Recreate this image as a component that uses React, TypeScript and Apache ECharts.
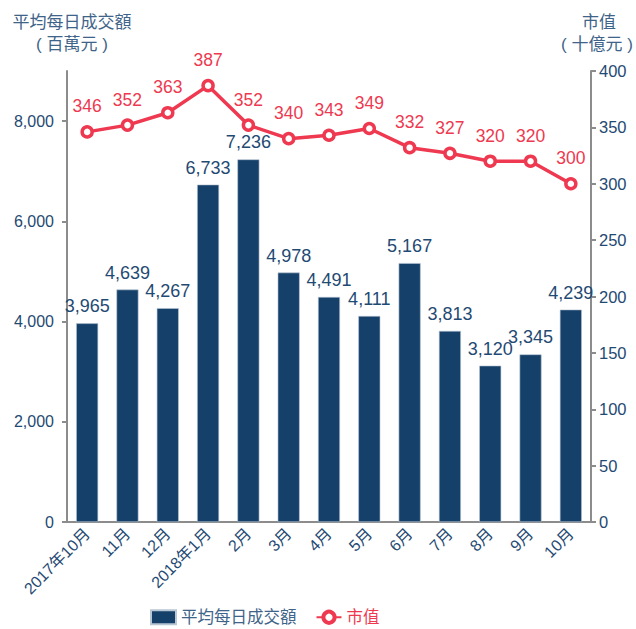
import React, { useEffect, useRef } from "react";
import * as echarts from "echarts";

const categories = ["2017年10月", "11月", "12月", "2018年1月", "2月", "3月", "4月", "5月", "6月", "7月", "8月", "9月", "10月"];
const turnover = [3965, 4639, 4267, 6733, 7236, 4978, 4491, 4111, 5167, 3813, 3120, 3345, 4239];
const marketCap = [346, 352, 363, 387, 352, 340, 343, 349, 332, 327, 320, 320, 300];
const leftTicks = [0, 2000, 4000, 6000, 8000];

const BAR = "#15406a";
const RED = "#ee3950";
const TXT = "#1f4a73";
const TITLE = "#3f6489";
const AXIS = "#8c8c8c";
const FONT = "'Liberation Sans', Arial, 'Noto Sans CJK TC', sans-serif";

export default function App() {
  const ref = useRef<HTMLDivElement>(null);
  useEffect(() => {
    document.body.style.margin = "0";
    if (!ref.current) return;
    const chart = echarts.init(ref.current, null, { renderer: "svg" });
    const fmt = (v: number) => v.toLocaleString("en-US");
    chart.setOption({
      animation: false,
      textStyle: { fontFamily: FONT },
      grid: { left: 67, right: 45, top: 71, bottom: 107 },
      graphic: [
        { type: "text", x: 72, y: 22, style: { text: "平均每日成交額", fill: TITLE, font: `17px ${FONT}`, align: "center", verticalAlign: "middle" } },
        { type: "text", x: 72, y: 44, style: { text: "( 百萬元 )", fill: TITLE, font: `17px ${FONT}`, align: "center", verticalAlign: "middle" } },
        { type: "text", x: 599, y: 22, style: { text: "市值", fill: TITLE, font: `17px ${FONT}`, align: "center", verticalAlign: "middle" } },
        { type: "text", x: 597, y: 44, style: { text: "( 十億元 )", fill: TITLE, font: `17px ${FONT}`, align: "center", verticalAlign: "middle" } },
      ],
      legend: {
        left: 145,
        top: 604,
        itemGap: 19,
        textStyle: { fontSize: 16.5, fontFamily: FONT },
        data: [
          { name: "平均每日成交額", icon: "rect", itemWidth: 43, itemHeight: 11, textStyle: { color: TITLE } },
          { name: "市值", itemWidth: 44, itemHeight: 12, itemStyle: { borderWidth: 4 }, textStyle: { color: RED } },
        ],
      },
      xAxis: {
        type: "category",
        data: categories,
        axisLine: { lineStyle: { color: AXIS, width: 2 } },
        axisTick: { length: 5, lineStyle: { color: AXIS, width: 2 } },
        axisLabel: { interval: 0, rotate: 45, color: TXT, fontSize: 16, margin: 9 },
      },
      yAxis: [
        {
          type: "value",
          min: 0,
          max: 9000,
          interval: 1000,
          splitLine: { show: false },
          axisLine: { show: true, lineStyle: { color: AXIS, width: 2 } },
          axisTick: { show: true, length: 5, customValues: leftTicks, lineStyle: { color: AXIS, width: 2 } },
          axisLabel: { color: TXT, fontSize: 16, margin: 13, customValues: leftTicks, formatter: (v: number) => fmt(v) },
        },
        {
          type: "value",
          min: 0,
          max: 400,
          interval: 50,
          splitLine: { show: false },
          axisLine: { show: true, lineStyle: { color: AXIS, width: 2 } },
          axisTick: { show: true, length: 5, lineStyle: { color: AXIS, width: 2 } },
          axisLabel: { color: TXT, fontSize: 16.5, margin: 8 },
        },
      ],
      series: [
        {
          name: "平均每日成交額",
          type: "bar",
          data: turnover,
          barWidth: 22,
          itemStyle: { color: BAR, borderColor: "#b9c6d3", borderWidth: 0.6 },
          label: { show: true, position: "top", distance: 8, color: TXT, fontSize: 18, formatter: (p: any) => fmt(p.value) },
        },
        {
          name: "市值",
          type: "line",
          yAxisIndex: 1,
          data: marketCap,
          symbol: "circle",
          symbolSize: 10,
          lineStyle: { color: RED, width: 3.5 },
          itemStyle: { color: "#ffffff", borderColor: RED, borderWidth: 3.5 },
          label: { show: true, position: "top", distance: 10, color: RED, fontSize: 17.5 },
          z: 3,
        },
      ],
    });
    return () => chart.dispose();
  }, []);
  return <div ref={ref} style={{ width: 636, height: 629 }} />;
}
